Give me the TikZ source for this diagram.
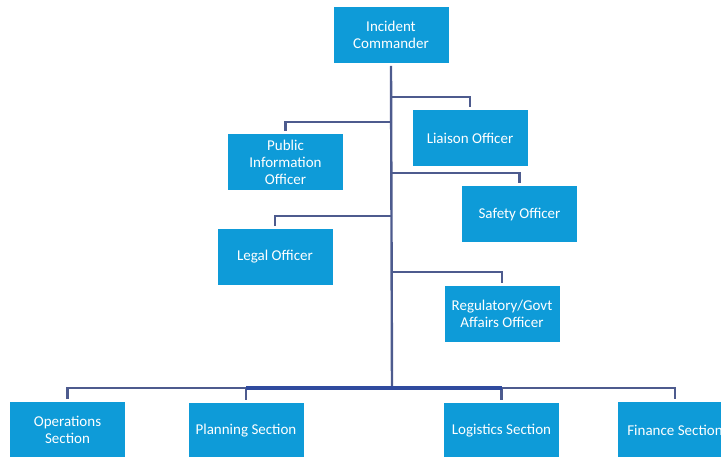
\documentclass[tikz,border=0pt]{standalone}
\usepackage{fontspec}
\setmainfont{Carlito}
\definecolor{boxblue}{HTML}{0E9BD8}
\definecolor{linegrey}{HTML}{4D5B8E}
\definecolor{busblue}{HTML}{2F4A9E}
\begin{document}
\begin{tikzpicture}[x=1pt,y=-1pt,
  post/.style={fill=boxblue,text=white,minimum width=115pt,minimum height=56pt,
    align=center,inner sep=2pt,outer sep=3pt,
    font=\fontsize{15}{17}\selectfont},
  link/.style={draw=linegrey,line width=2.4pt}]
\useasboundingbox (0,0) rectangle (721,457);
% boxes
\node[post] (ic) at (391,35) {Incident\\Commander};
\node[post] (liaison) at (470,138) {Liaison Officer};
\node[post] (pio) at (285.5,162) {Public\\Information\\Officer};
\node[post] (safety) at (519.5,214.5) {Safety Officer};
\node[post] (legal) at (275,257) {Legal Officer};
\node[post] (reg) at (502,314) {Regulatory/Govt\\Affairs Officer};
\node[post] (ops) at (67.5,430) {Operations\\Section};
\node[post] (plan) at (246,431) {Planning Section};
\node[post] (logi) at (501.5,431) {Logistics Section};
\node[post] (fin) at (675,430) {Finance Section};
% trunk
\coordinate (bus) at (392,388);
\draw[link] (ic.south) -- (bus);
\foreach \y/\b in {97/liaison,122/pio,173/safety,216/legal,272/reg}
{
\coordinate (j-\b) at (392,\y);
\draw[link] (j-\b) -| (\b.north);
}
% sections
\draw[link] (ops.north) |- (bus) -| (fin.north);
\foreach \b in {plan,logi}
{
\draw[link] (bus -| \b.north) -- (\b.north);
}
\draw[draw=busblue,line width=3.6pt] (bus -| plan.north) -- (bus -| logi.north);
\end{tikzpicture}
\end{document}
